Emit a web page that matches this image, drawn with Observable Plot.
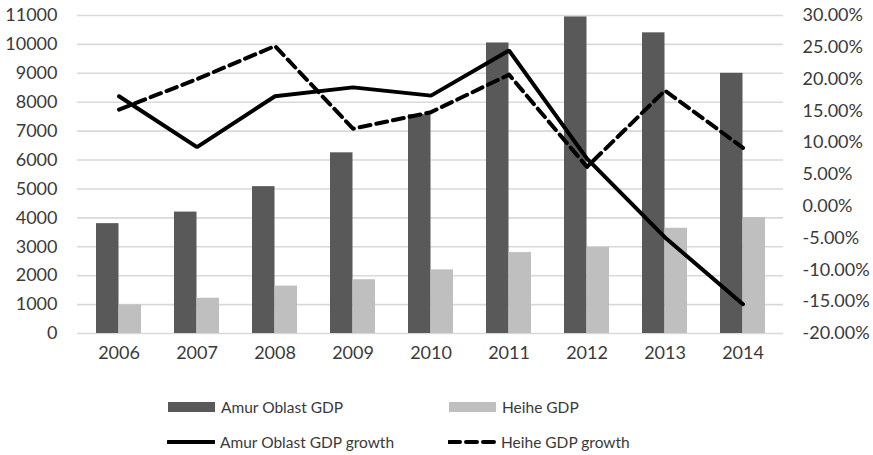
<!DOCTYPE html>
<html>
<head>
<meta charset="utf-8">
<script src="https://cdn.jsdelivr.net/npm/d3@7"></script>
<script src="https://cdn.jsdelivr.net/npm/@observablehq/plot@0.6"></script>
<style>
  body { margin: 0; background: #fff; font-family: Lato, "Open Sans", sans-serif; }
  #wrap { position: relative; width: 873px; height: 455px; }
  #chart { position: absolute; left: 0; top: 0; }
  .lg { position: absolute; display: flex; align-items: center; font-size: 15.5px; color: #3a3a3a; white-space: nowrap; }
  .lg svg { margin-right: 5px; }
</style>
</head>
<body>
<div id="wrap">
  <div id="chart"></div>
</div>
<script>
// Years on the category axis
const years = ["2006", "2007", "2008", "2009", "2010", "2011", "2012", "2013", "2014"];
// GDP (left axis)
const amurGdp = [3800, 4200, 5080, 6250, 7570, 10050, 10950, 10400, 9000];
const heiheGdp = [990, 1220, 1640, 1860, 2200, 2800, 2980, 3640, 4010];
// GDP growth, percent (right axis)
const amurGrowth = [17.3, 9.3, 17.3, 18.7, 17.4, 24.5, 7.5, -4.9, -15.4];
const heiheGrowth = [15.2, 20.0, 25.2, 12.2, 14.8, 20.7, 6.2, 18.2, 9.2];
// Axis ticks
const leftTicks = d3.range(0, 11001, 1000);
const rightTicks = [-20, -15, -10, -5, 0, 5, 10, 15, 20, 25, 30];

// The growth axis (-20%..30%) is laid over the GDP axis (0..11000)
const gdpMax = 11000, pctMin = -20, pctMax = 30;
const pctToGdp = p => (p - pctMin) / (pctMax - pctMin) * gdpMax;
const gdpToPct = v => v / gdpMax * (pctMax - pctMin) + pctMin;

const rows = years.map((year, i) => ({
  year,
  amurGdp: amurGdp[i],
  heiheGdp: heiheGdp[i],
  amurGrowth: pctToGdp(amurGrowth[i]),
  heiheGrowth: pctToGdp(heiheGrowth[i])
}));

const textColor = "#3a3a3a";

const chart = Plot.plot({
  width: 873,
  height: 372,
  marginLeft: 77,
  marginRight: 90,
  marginTop: 15,
  marginBottom: 39,
  style: { fontFamily: "Lato, 'Open Sans', sans-serif", fontSize: "18px", color: textColor, background: "#fff" },
  x: { type: "band", domain: years, paddingInner: 0.426, paddingOuter: 0.213, label: null },
  y: { domain: [0, gdpMax], label: null },
  marks: [
    Plot.gridY(leftTicks, { stroke: "#d9d9d9", strokeOpacity: 1, strokeWidth: 1.6 }),
    Plot.barY(rows, { x: "year", y: "amurGdp", fill: "#595959", insetRight: 22.5 }),
    Plot.barY(rows, { x: "year", y: "heiheGdp", fill: "#bfbfbf", insetLeft: 22.5 }),
    Plot.line(rows, { x: "year", y: "amurGrowth", stroke: "#000", strokeWidth: 4, strokeLinejoin: "miter" }),
    Plot.line(rows, { x: "year", y: "heiheGrowth", stroke: "#000", strokeWidth: 4, strokeDasharray: "11,6" }),
    Plot.axisY(leftTicks, { anchor: "left", tickSize: 0, tickPadding: 20, tickFormat: d => String(d), fill: textColor }),
    Plot.axisY(rightTicks.map(pctToGdp), {
      anchor: "right", tickSize: 0, tickPadding: 19, fill: textColor,
      tickFormat: d => Math.round(gdpToPct(d)).toFixed(2) + "%"
    }),
    Plot.axisX({ anchor: "bottom", tickSize: 0, tickPadding: 13, fill: textColor })
  ]
});
document.getElementById("chart").append(chart);

// Legend below the chart
const legendItems = [
  { label: "Amur Oblast GDP", kind: "rect", color: "#595959", left: 168, top: 407 },
  { label: "Heihe GDP", kind: "rect", color: "#bfbfbf", left: 449, top: 407 },
  { label: "Amur Oblast GDP growth", kind: "line", dash: null, left: 167, top: 442 },
  { label: "Heihe GDP growth", kind: "line", dash: "11,6", left: 448, top: 442 }
];
const wrap = document.getElementById("wrap");
for (const item of legendItems) {
  const div = document.createElement("div");
  div.className = "lg";
  div.style.left = item.left + "px";
  div.style.top = (item.top - 12) + "px";
  div.style.height = "24px";
  const swatch = item.kind === "rect"
    ? `<svg width="48" height="12"><rect x="0" y="1" width="47" height="10" fill="${item.color}"/></svg>`
    : `<svg width="48" height="12"><line x1="1" y1="6" x2="47" y2="6" stroke="#000" stroke-width="4" stroke-linecap="round"${item.dash ? ` stroke-dasharray="${item.dash}"` : ""}/></svg>`;
  div.innerHTML = swatch + `<span>${item.label}</span>`;
  wrap.append(div);
}
</script>
</body>
</html>
